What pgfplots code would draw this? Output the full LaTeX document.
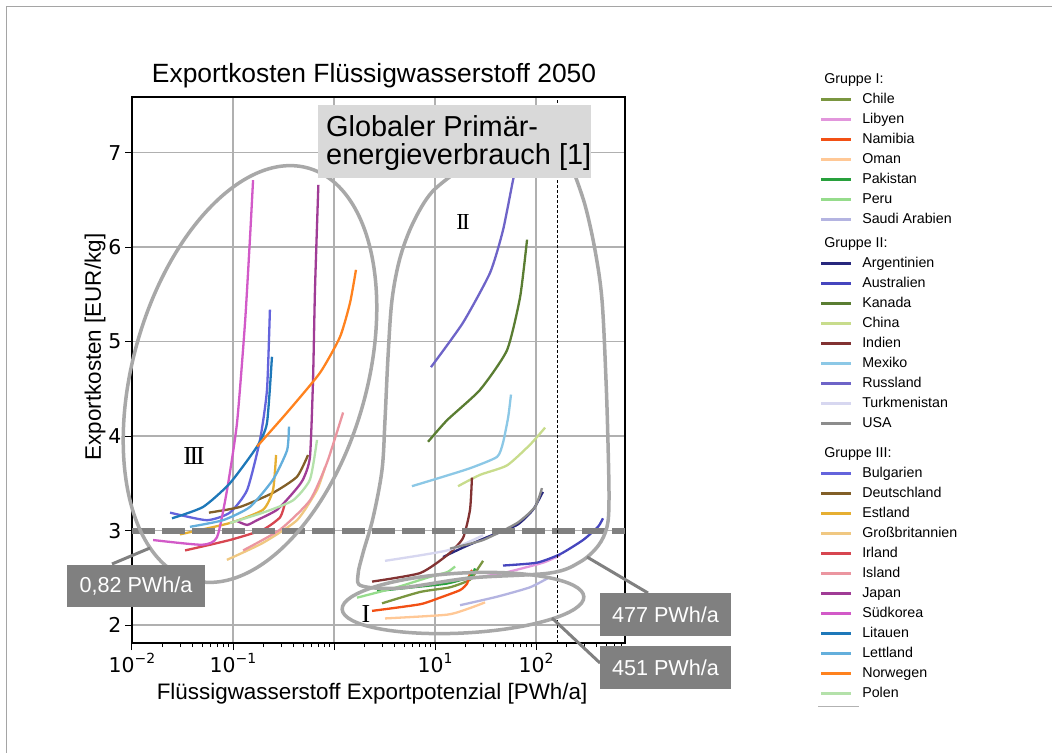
\documentclass[border=0pt]{standalone}
\usepackage{pgfplots}
\pgfplotsset{compat=1.18}
\usepackage{fontspec}
\setmainfont{Liberation Sans}
\newfontfamily\dejavu{DejaVu Sans}
\newfontfamily\rmnum{Liberation Serif}
% Gruppe I
\definecolor{cChile}{RGB}{122,150,64}
\definecolor{cLibyen}{RGB}{226,150,220}
\definecolor{cNamibia}{RGB}{242,80,20}
\definecolor{cOman}{RGB}{255,200,150}
\definecolor{cPakistan}{RGB}{40,160,60}
\definecolor{cPeru}{RGB}{150,220,140}
\definecolor{cSaudi}{RGB}{180,180,225}
% Gruppe II
\definecolor{cArgentinien}{RGB}{40,40,125}
\definecolor{cAustralien}{RGB}{70,70,190}
\definecolor{cKanada}{RGB}{90,125,50}
\definecolor{cChina}{RGB}{200,220,140}
\definecolor{cIndien}{RGB}{130,50,50}
\definecolor{cMexiko}{RGB}{140,200,230}
\definecolor{cRussland}{RGB}{110,100,200}
\definecolor{cTurkmenistan}{RGB}{215,215,240}
\definecolor{cUSA}{RGB}{140,140,140}
% Gruppe III
\definecolor{cBulgarien}{RGB}{100,100,220}
\definecolor{cDeutschland}{RGB}{130,95,40}
\definecolor{cEstland}{RGB}{230,175,50}
\definecolor{cGB}{RGB}{240,200,130}
\definecolor{cIrland}{RGB}{215,70,80}
\definecolor{cIsland}{RGB}{235,150,160}
\definecolor{cJapan}{RGB}{160,60,150}
\definecolor{cSuedkorea}{RGB}{210,90,200}
\definecolor{cLitauen}{RGB}{30,120,185}
\definecolor{cLettland}{RGB}{100,175,220}
\definecolor{cNorwegen}{RGB}{255,130,30}
\definecolor{cPolen}{RGB}{180,225,170}
% annotations
\definecolor{gridgray}{RGB}{176,176,176}
\definecolor{contour}{RGB}{168,168,168}
\definecolor{darkbox}{RGB}{128,128,128}
\definecolor{lightbox}{RGB}{217,217,217}
\definecolor{framegray}{RGB}{165,165,165}
\begin{document}
\begin{tikzpicture}
\useasboundingbox (-132bp,-110bp) rectangle (920bp,643bp);
\fill[white] (-132bp,-110bp) rectangle (920bp,643bp);
\draw[framegray, line width=1.2bp] (-125.5bp,-110bp) -- (-125.5bp,636.5bp) -- (920bp,636.5bp);
\begin{axis}[
  scale only axis, width=493bp, height=546bp,
  at={(0,0)}, anchor=south west,
  xmode=log, xmin=0.01, xmax=760, ymin=1.81, ymax=7.59,
  xtick={0.01,0.1,1,10,100},
  xticklabels={{10\raisebox{0.42em}{\fontsize{14}{14}\selectfont −2}},{10\raisebox{0.42em}{\fontsize{14}{14}\selectfont −1}},{},{10\raisebox{0.42em}{\fontsize{14}{14}\selectfont 1}},{10\raisebox{0.42em}{\fontsize{14}{14}\selectfont 2}}},
  minor xtick={0.02,0.03,0.04,0.05,0.06,0.07,0.08,0.09,0.2,0.3,0.4,0.5,0.6,0.7,0.8,0.9,2,3,4,5,6,7,8,9,20,30,40,50,60,70,80,90,200,300,400,500,600,700},
  ytick={2,3,4,5,6,7}, yticklabels={2,3,4,5,6,7},
  ticklabel style={font=\dejavu\fontsize{20.5}{23}\selectfont, text=black},
  tick align=outside, tick pos=left,
  major tick length=7bp, minor tick length=4bp,
  every tick/.style={black, line width=1bp},
  axis line style={line width=1.2bp},
  grid=major, major grid style={color=gridgray, line width=1.4bp},
  title={Exportkosten Flüssigwasserstoff 2050},
  title style={at={(axis description cs:0.491,1.0147)}, anchor=base, font=\fontsize{26.5}{30}\selectfont},
  xlabel={Flüssigwasserstoff Exportpotenzial [PWh/a]},
  xlabel style={at={(axis description cs:0.487,-0.1026)}, anchor=base, font=\fontsize{22.5}{26}\selectfont},
  ylabel={Exportkosten [EUR/kg]},
  ylabel style={at={(axis description cs:-0.0629,0.542)}, anchor=base, rotate=0, font=\fontsize{22.5}{26}\selectfont},
  every axis plot/.append style={line width=2.3bp, smooth, tension=0.35},
  legend cell align=left,
  legend image code/.code={\draw[#1, sharp plot] (0bp,0bp) -- (30bp,0bp);},
  legend style={
    at={(axis description cs:1.3955,1.0476)}, anchor=north west,
    draw=none, fill=none, inner sep=0pt, outer sep=0pt,
    row sep=3bp,
    font=\fontsize{14.3}{16}\selectfont,
    nodes={inner sep=2bp, text height=10bp, text depth=3bp},
    /tikz/every odd column/.append style={column sep=8bp},
  },
]
% ---------------- Gruppe I
\addlegendimage{empty legend}\addlegendentry{\hspace*{-38bp}Gruppe I:}
\addplot[cChile] coordinates {(2.99,2.23) (7.1,2.35) (14.1,2.40) (22.2,2.48) (26.7,2.60) (29.9,2.68)};
\addlegendentry{Chile}
\addplot[cLibyen] coordinates {(18.9,2.48) (47.1,2.55) (117,2.66) (173,2.74)};
\addlegendentry{Libyen}
\addplot[cNamibia] coordinates {(2.38,2.15) (7.1,2.22) (11.2,2.29) (17.7,2.37) (20.8,2.44) (22.2,2.55) (23.4,2.58)};
\addlegendentry{Namibia}
\addplot[cOman] coordinates {(3.2,2.07) (13.2,2.11) (22.2,2.18) (31.3,2.24)};
\addlegendentry{Oman}
\addplot[cPakistan] coordinates {(2.67,2.36) (6.05,2.40) (13.2,2.44) (22.2,2.51) (24.9,2.60)};
\addlegendentry{Pakistan}
\addplot[cPeru] coordinates {(1.69,2.29) (4.2,2.40) (8.9,2.51) (13.2,2.56) (15.8,2.62)};
\addlegendentry{Peru}
\addplot[cSaudi] coordinates {(17.7,2.21) (41.1,2.30) (87.3,2.40) (138,2.51)};
\addlegendentry{Saudi Arabien}
% ---------------- Gruppe II
\addlegendimage{empty legend}\addlegendentry[text height=14bp]{\hspace*{-38bp}Gruppe II:}
\addplot[cArgentinien] coordinates {(12.0,2.72) (18.9,2.82) (32.7,2.93) (64.9,3.06) (93.3,3.22) (117,3.41)};
\addlegendentry{Argentinien}
\addplot[cAustralien] coordinates {(47.1,2.63) (102,2.66) (173,2.75) (292,2.90) (411,3.04) (460,3.13)};
\addlegendentry{Australien}
\addplot[cKanada] coordinates {(8.53,3.94) (13.2,4.17) (27.9,4.49) (51.6,4.91) (69.5,5.47) (81.5,6.08)};
\addlegendentry{Kanada}
\addplot[cChina] coordinates {(16.9,3.47) (27.9,3.59) (51.6,3.69) (87.3,3.91) (123,4.09)};
\addlegendentry{China}
\addplot[cIndien] coordinates {(2.38,2.46) (7.1,2.55) (13.2,2.74) (18.9,2.92) (22.2,3.22) (23.2,3.56)};
\addlegendentry{Indien}
\addplot[cMexiko] coordinates {(5.91,3.47) (11.2,3.56) (22.2,3.66) (41.1,3.78) (47.1,3.93) (53,4.2) (56.5,4.44)};
\addlegendentry{Mexiko}
\addplot[cRussland] coordinates {(9.12,4.73) (18.9,5.20) (35.1,5.73) (47.1,6.18) (59.2,6.71) (62,6.78)};
\addlegendentry{Russland}
\addplot[cTurkmenistan] coordinates {(3.2,2.68) (13.2,2.79) (29.9,2.95)};
\addlegendentry{Turkmenistan}
\addplot[cUSA] coordinates {(14.1,2.81) (29.9,2.90) (64.9,3.08) (97.7,3.25) (114.5,3.45)};
\addlegendentry{USA}
% ---------------- Gruppe III
\addlegendimage{empty legend}\addlegendentry[text height=20bp]{\hspace*{-38bp}Gruppe III:}
\addplot[cBulgarien] coordinates {(0.0238,3.19) (0.055,3.11) (0.093,3.19) (0.138,3.43) (0.185,3.96) (0.217,4.49) (0.232,5.34)};
\addlegendentry{Bulgarien}
\addplot[cDeutschland] coordinates {(0.0578,3.19) (0.117,3.25) (0.249,3.40) (0.43,3.57) (0.553,3.80)};
\addlegendentry{Deutschland}
\addplot[cEstland] coordinates {(0.0298,2.96) (0.093,3.08) (0.198,3.22) (0.249,3.43) (0.267,3.80)};
\addlegendentry{Estland}
\addplot[cGB] coordinates {(0.087,2.69) (0.198,2.87) (0.43,3.11) (0.679,3.43) (0.815,3.67)};
\addlegendentry{Großbritannien}
\addplot[cIrland] coordinates {(0.0335,2.79) (0.093,2.90) (0.198,3.01) (0.292,3.14) (0.327,3.29)};
\addlegendentry{Irland}
\addplot[cIsland] coordinates {(0.126,2.79) (0.292,3.01) (0.578,3.32) (0.853,3.72) (1.23,4.25)};
\addlegendentry{Island}
\addplot[cJapan] coordinates {(0.11,3.10) (0.138,3.06) (0.173,3.11) (0.273,3.22) (0.393,3.40) (0.493,3.54) (0.578,3.78) (0.62,4.6) (0.648,5.55) (0.70,6.66)};
\addlegendentry{Japan}
\addplot[cSuedkorea] coordinates {(0.0162,2.90) (0.0493,2.85) (0.0695,2.93) (0.0873,3.43) (0.1096,4.14) (0.1315,5.20) (0.147,6.08) (0.158,6.71)};
\addlegendentry{Südkorea}
\addplot[cLitauen] coordinates {(0.0249,3.13) (0.0505,3.25) (0.093,3.50) (0.173,3.89) (0.217,4.14) (0.243,4.84)};
\addlegendentry{Litauen}
\addplot[cLettland] coordinates {(0.0375,3.04) (0.0796,3.11) (0.147,3.25) (0.249,3.54) (0.343,3.85) (0.358,4.10)};
\addlegendentry{Lettland}
\addplot[cNorwegen] coordinates {(0.173,3.89) (0.343,4.25) (0.726,4.67) (1.146,5.05) (1.44,5.41) (1.65,5.76)};
\addlegendentry{Norwegen}
\addplot[cPolen] coordinates {(0.093,3.08) (0.198,3.19) (0.393,3.32) (0.578,3.54) (0.679,3.96)};
\addlegendentry{Polen}
% reference lines
\addplot[forget plot, sharp plot, darkbox, line width=6bp, dash pattern=on 23bp off 7bp] coordinates {(0.01,3) (760,3)};
\addplot[forget plot, sharp plot, black, line width=1.2bp, dash pattern=on 3bp off 2bp] coordinates {(162,1.81) (162,7.59)};
\end{axis}
% ---------------- annotations (1bp = 1px, origin at lower-left axis corner)
\begin{scope}[x=1bp, y=1bp]
\draw[contour, line width=3.5bp] (118,269) ellipse [x radius=117, y radius=214, rotate=-15.8];
\draw[contour, line width=3.5bp] (331,40) ellipse [x radius=121, y radius=30, rotate=3];
\draw[contour, line width=3.5bp] plot[smooth, tension=0.55] coordinates {(330,475) (300,451) (281,420) (268,385) (260,343) (256,286) (253,223) (250,173) (241,125) (231,90) (226,68) (230,57) (268,55) (338,65) (418,70) (448,81) (466,97) (475,116) (477,143) (476,200) (474,263) (470,343) (463,393) (453,438) (441,473)};
% pointer lines
\draw[darkbox, line width=3bp] (18,95) -- (-20,79);
\draw[darkbox, line width=3bp] (455,86) -- (516,50);
\draw[darkbox, line width=3bp] (420,25) -- (468,-20);
% label boxes
\fill[lightbox] (186,465) rectangle (459,538);
\node[anchor=base west, inner sep=0pt, font=\fontsize{29}{30}\selectfont] at (194,506) {Globaler Primär-};
\node[anchor=base west, inner sep=0pt, font=\fontsize{29}{30}\selectfont] at (194,478) {energieverbrauch [1]};
\fill[darkbox] (-65,36) rectangle (73,78);
\node[white, inner sep=0pt, font=\fontsize{21.7}{24}\selectfont] at (4,57) {0,82 PWh/a};
\fill[darkbox] (468,7) rectangle (599,50);
\node[white, inner sep=0pt, font=\fontsize{21.7}{24}\selectfont] at (533.5,28.5) {477 PWh/a};
\fill[darkbox] (468,-46) rectangle (599,-3);
\node[white, inner sep=0pt, font=\fontsize{21.7}{24}\selectfont] at (533.5,-24.5) {451 PWh/a};
% roman numerals
\node[inner sep=0pt, font=\rmnum\fontsize{26}{26}\selectfont] at (62,187) {I\kern-2.2bp I\kern-2.2bp I};
\node[inner sep=0pt, font=\rmnum\fontsize{23}{23}\selectfont] at (331,421) {I\kern-2bp I};
\node[inner sep=0pt, font=\rmnum\fontsize{26}{26}\selectfont] at (234,29) {I};
% stray legend line
\draw[gray!60, line width=1bp] (686,-63) -- (727,-63);
\end{scope}
\end{tikzpicture}
\end{document}
